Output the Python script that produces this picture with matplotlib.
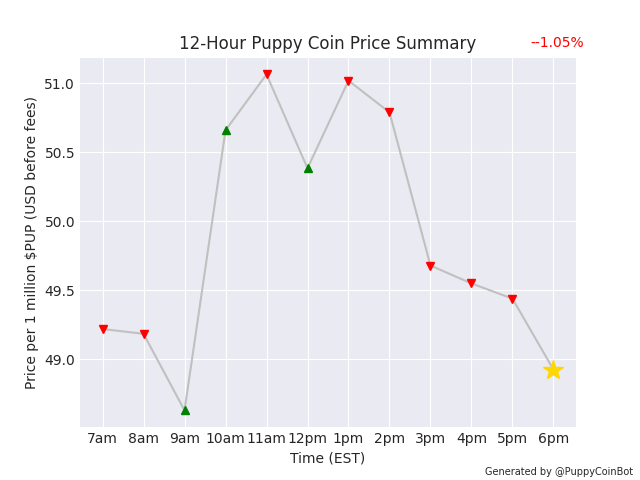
import matplotlib
matplotlib.use("Agg")
import matplotlib.pyplot as plt

hours = ["7am", "8am", "9am", "10am", "11am", "12pm", "1pm", "2pm", "3pm", "4pm", "5pm", "6pm"]
prices = [49.22, 49.185, 48.63, 50.66, 51.065, 50.385, 51.02, 50.79, 49.68, 49.55, 49.44, 48.925]
change_text = "--1.05%"

plt.style.use("seaborn-v0_8-darkgrid")
plt.rcParams["font.family"] = ["DejaVu Sans"]
fig, ax = plt.subplots(figsize=(6.4, 4.8), dpi=100)
x = list(range(len(hours)))
ax.plot(x, prices, color="#c0c0c0", linewidth=1.5, zorder=2)
for i in range(len(prices) - 1):
    up = prices[i + 1] > prices[i]
    ax.plot(x[i], prices[i], marker="^" if up else "v", color="green" if up else "red",
            markersize=6, linestyle="none", zorder=3)
ax.plot(x[-1], prices[-1], marker="*", color="gold", markersize=15, linestyle="none", zorder=3)
ax.set_xticks(x)
ax.set_xticklabels(hours)
ax.set_title("12-Hour Puppy Coin Price Summary")
ax.set_xlabel("Time (EST)")
ax.set_ylabel("Price per 1 million $PUP (USD before fees)")
fig.text(0.912, 0.91, change_text, color="red", ha="right", va="center", fontsize=10)
fig.text(0.99, 0.007, "Generated by @PuppyCoinBot", ha="right", va="bottom", fontsize=7)
fig.savefig("out.png", dpi=100)
